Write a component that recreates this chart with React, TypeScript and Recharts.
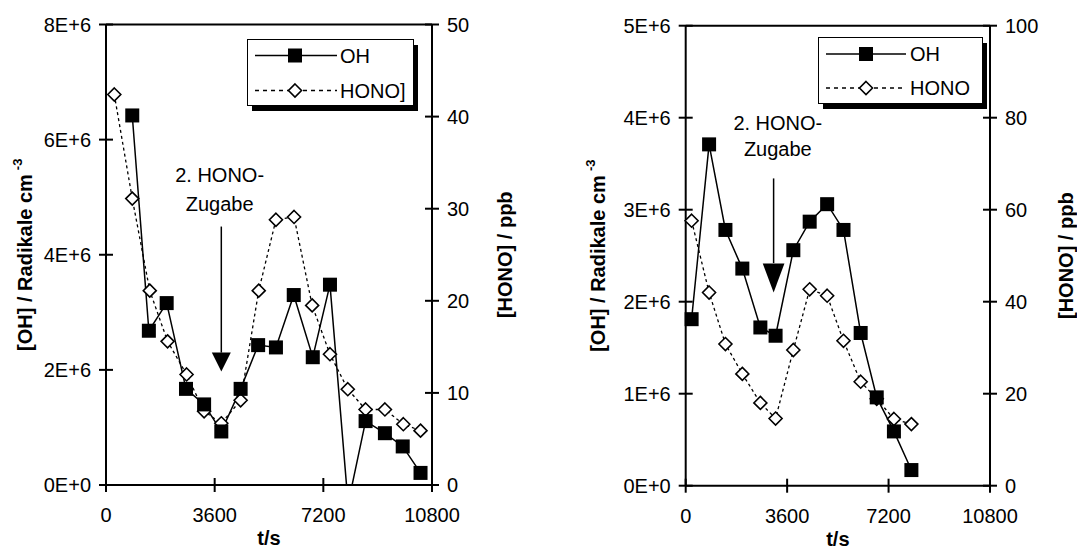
import React from 'react';
import {
  ComposedChart,
  Line,
  XAxis,
  YAxis,
  ReferenceLine,
  ReferenceDot,
  Legend,
} from 'recharts';

const FONT = "'Liberation Sans', Arial, Helvetica, sans-serif";

// ---- Experiment 1 (left panel) ----
const leftOhTimes = [870, 1420, 2010, 2650, 3250, 3820, 4460, 5040, 5630, 6220, 6850, 7420, 8020, 8600, 9240, 9830, 10420];
const leftOhValues = [6.42e6, 2.68e6, 3.16e6, 1.67e6, 1.4e6, 0.93e6, 1.67e6, 2.43e6, 2.39e6, 3.3e6, 2.22e6, 3.48e6, -0.33e6, 1.11e6, 0.9e6, 0.67e6, 0.21e6];
const leftHonoTimes = [275, 870, 1450, 2040, 2670, 3250, 3820, 4460, 5060, 5630, 6230, 6830, 7420, 8010, 8600, 9240, 9850, 10420];
const leftHonoValues = [42.4, 31.1, 21.1, 15.6, 12.0, 8.0, 6.7, 9.2, 21.1, 28.8, 29.1, 19.5, 14.2, 10.4, 8.2, 8.2, 6.6, 5.9];

// ---- Experiment 2 (right panel) ----
const rightTimes = [210, 830, 1410, 2010, 2650, 3190, 3820, 4400, 5020, 5600, 6210, 6780, 7390, 8010];
const rightOhValues = [1.81e6, 3.71e6, 2.78e6, 2.36e6, 1.72e6, 1.63e6, 2.56e6, 2.87e6, 3.06e6, 2.78e6, 1.66e6, 0.96e6, 0.59e6, 0.17e6];
const rightHonoValues = [57.6, 42.0, 30.8, 24.3, 18.0, 14.6, 29.5, 42.7, 41.3, 31.5, 22.6, 18.9, 14.5, 13.4];

// ---- Axis ticks ----
const timeTicks = [0, 3600, 7200, 10800];
const leftOhTicks = [0, 2e6, 4e6, 6e6, 8e6];
const leftHonoTicks = [0, 10, 20, 30, 40, 50];
const rightOhTicks = [0, 1e6, 2e6, 3e6, 4e6, 5e6];
const rightHonoTicks = [0, 20, 40, 60, 80, 100];

const toPoints = (ts: number[], vs: number[]) => ts.map((t, i) => ({ t, v: vs[i] }));

const sci = (v: number) => (v === 0 ? '0E+0' : `${Math.round(v / 1e6)}E+6`);

const TICK_HALF = 7;

const XTick = (props: any) => {
  const { x, y, payload } = props;
  return (
    <g>
      <line x1={x} x2={x} y1={y - TICK_HALF} y2={y + TICK_HALF} stroke="#000" strokeWidth={2} />
      <text x={x} y={y + 30} textAnchor="middle" dominantBaseline="central" fontSize={20} fontFamily={FONT} fill="#000">
        {payload.value}
      </text>
    </g>
  );
};

const LeftTick = (props: any) => {
  const { x, y, payload } = props;
  return (
    <g>
      <line x1={x - TICK_HALF} x2={x + TICK_HALF} y1={y} y2={y} stroke="#000" strokeWidth={2} />
      <text x={x - 15} y={y} textAnchor="end" dominantBaseline="central" fontSize={20} fontFamily={FONT} fill="#000">
        {sci(payload.value)}
      </text>
    </g>
  );
};

const RightTick = (props: any) => {
  const { x, y, payload } = props;
  return (
    <g>
      <line x1={x - TICK_HALF} x2={x + TICK_HALF} y1={y} y2={y} stroke="#000" strokeWidth={2} />
      <text x={x + 15} y={y} textAnchor="start" dominantBaseline="central" fontSize={20} fontFamily={FONT} fill="#000">
        {payload.value}
      </text>
    </g>
  );
};

const SquareDot = (props: any) => {
  const { cx, cy, index } = props;
  if (cx == null || cy == null) return <g key={`s${index}`} />;
  return <rect key={`s${index}`} x={cx - 7} y={cy - 7} width={14} height={14} fill="#000" />;
};

const DiamondDot = (props: any) => {
  const { cx, cy, index } = props;
  if (cx == null || cy == null) return <g key={`d${index}`} />;
  const r = 6.5;
  return (
    <path
      key={`d${index}`}
      d={`M${cx},${cy - r} L${cx + r},${cy} L${cx},${cy + r} L${cx - r},${cy} Z`}
      fill="#fff"
      stroke="#000"
      strokeWidth={1.6}
    />
  );
};

type PanelProps = {
  width: number;
  left: number;
  marginTop: number;
  leftAxisWidth: number;
  rightAxisWidth: number;
  xAxisHeight: number;
  oh: { t: number; v: number }[];
  hono: { t: number; v: number }[];
  ohTicks: number[];
  honoTicks: number[];
  ohMax: number;
  honoMax: number;
  honoName: string;
  leftTitleX: number;
  rightTitleX: number;
  legendBox: { left: number; top: number; width: number; height: number; row1: number; row2: number; lineFrom: number; lineTo: number; marker: number; text: number };
  arrow: { t: number; top: number; base: number; tip: number; headW: number; headH: number };
  note: { t: number; line1: number; line2: number };
};

const LegendBox = ({ box, honoName }: { box: PanelProps['legendBox']; honoName: string }) => {
  const { width: w, height: h, row1, row2, lineFrom, lineTo, marker, text } = box;
  const r = 6.5;
  return (
    <svg width={w + 8} height={h + 10} style={{ display: 'block', overflow: 'visible' }}>
      <rect x={5} y={6} width={w} height={h} fill="#000" />
      <rect x={0.5} y={0.5} width={w} height={h} fill="#fff" stroke="#000" strokeWidth={1} />
      <line x1={lineFrom} x2={lineTo} y1={row1} y2={row1} stroke="#000" strokeWidth={1.5} />
      <rect x={marker - 7} y={row1 - 7} width={14} height={14} fill="#000" />
      <text x={text} y={row1} dominantBaseline="central" fontSize={20} fontFamily={FONT} fill="#000">
        OH
      </text>
      <line x1={lineFrom} x2={lineTo} y1={row2} y2={row2} stroke="#000" strokeWidth={1.6} strokeDasharray="4 4" />
      <path
        d={`M${marker},${row2 - r} L${marker + r},${row2} L${marker},${row2 + r} L${marker - r},${row2} Z`}
        fill="#fff"
        stroke="#000"
        strokeWidth={1.6}
      />
      <text x={text} y={row2} dominantBaseline="central" fontSize={20} fontFamily={FONT} fill="#000">
        {honoName}
      </text>
    </svg>
  );
};

const Panel = (p: PanelProps) => {
  const height = 549;
  const plotRight = p.width - p.rightAxisWidth;
  return (
    <div style={{ position: 'absolute', left: p.left, top: 0 }}>
      <ComposedChart
        width={p.width}
        height={height}
        margin={{ top: p.marginTop, right: 0, bottom: 0, left: 0 }}
        style={{ fontFamily: FONT }}
      >
        <XAxis
          dataKey="t"
          type="number"
          domain={[0, 10800]}
          ticks={timeTicks}
          allowDuplicatedCategory={false}
          height={p.xAxisHeight}
          tickSize={0}
          tickMargin={0}
          tickLine={false}
          axisLine={{ stroke: '#000', strokeWidth: 2 }}
          tick={<XTick />}
          interval={0}
          label={{
            content: (lp: any) => {
              const vb = lp.viewBox;
              return (
                <text
                  x={vb.x + vb.width / 2}
                  y={vb.y + 53}
                  textAnchor="middle"
                  dominantBaseline="central"
                  fontSize={20}
                  fontWeight="bold"
                  fontFamily={FONT}
                  fill="#000"
                >
                  t/s
                </text>
              );
            },
          }}
        />
        <YAxis
          yAxisId="oh"
          orientation="left"
          type="number"
          domain={[0, p.ohMax]}
          allowDataOverflow
          ticks={p.ohTicks}
          width={p.leftAxisWidth}
          tickSize={0}
          tickMargin={0}
          tickLine={false}
          axisLine={{ stroke: '#000', strokeWidth: 2 }}
          tick={<LeftTick />}
          interval={0}
          label={{
            content: (lp: any) => {
              const vb = lp.viewBox;
              const cx = p.leftTitleX;
              const cy = vb.y + vb.height / 2;
              return (
                <text
                  x={cx}
                  y={cy}
                  transform={`rotate(-90 ${cx} ${cy})`}
                  textAnchor="middle"
                  dominantBaseline="central"
                  fontSize={20}
                  fontWeight="bold"
                  fontFamily={FONT}
                  fill="#000"
                >
                  [OH] / Radikale cm
                  <tspan dx={4} dy={-8} fontSize={13}>
                    -3
                  </tspan>
                </text>
              );
            },
          }}
        />
        <YAxis
          yAxisId="hono"
          orientation="right"
          type="number"
          domain={[0, p.honoMax]}
          allowDataOverflow
          ticks={p.honoTicks}
          width={p.rightAxisWidth}
          tickSize={0}
          tickMargin={0}
          tickLine={false}
          axisLine={{ stroke: '#000', strokeWidth: 2 }}
          tick={<RightTick />}
          interval={0}
          label={{
            content: (lp: any) => {
              const vb = lp.viewBox;
              const cx = p.rightTitleX;
              const cy = vb.y + vb.height / 2;
              return (
                <text
                  x={cx}
                  y={cy}
                  transform={`rotate(-90 ${cx} ${cy})`}
                  textAnchor="middle"
                  dominantBaseline="central"
                  fontSize={20}
                  fontWeight="bold"
                  fontFamily={FONT}
                  fill="#000"
                >
                  [HONO] / ppb
                </text>
              );
            },
          }}
        />

        {/* frame top edge */}
        <ReferenceLine yAxisId="oh" y={p.ohMax} stroke="#000" strokeWidth={2} ifOverflow="visible" />

        {/* annotation: second HONO addition */}
        <ReferenceLine
          yAxisId="oh"
          segment={[
            { x: p.arrow.t, y: p.arrow.top },
            { x: p.arrow.t, y: p.arrow.base },
          ]}
          stroke="#000"
          strokeWidth={1.5}
          ifOverflow="visible"
        />
        <ReferenceDot
          yAxisId="oh"
          x={p.arrow.t}
          y={p.arrow.tip}
          ifOverflow="visible"
          shape={(sp: any) => (
            <path
              d={`M${sp.cx - p.arrow.headW / 2},${sp.cy - p.arrow.headH} L${sp.cx + p.arrow.headW / 2},${sp.cy - p.arrow.headH} L${sp.cx},${sp.cy} Z`}
              fill="#000"
            />
          )}
        />
        <ReferenceDot
          yAxisId="oh"
          x={p.note.t}
          y={p.note.line1}
          ifOverflow="visible"
          shape={(sp: any) => (
            <text x={sp.cx} y={sp.cy} textAnchor="middle" dominantBaseline="central" fontSize={20} fontFamily={FONT} fill="#000">
              2. HONO-
            </text>
          )}
        />
        <ReferenceDot
          yAxisId="oh"
          x={p.note.t}
          y={p.note.line2}
          ifOverflow="visible"
          shape={(sp: any) => (
            <text x={sp.cx} y={sp.cy} textAnchor="middle" dominantBaseline="central" fontSize={20} fontFamily={FONT} fill="#000">
              Zugabe
            </text>
          )}
        />

        <Line
          yAxisId="hono"
          data={p.hono}
          dataKey="v"
          type="linear"
          stroke="#000"
          strokeWidth={1.3}
          strokeDasharray="3 3"
          dot={(dp: any) => <DiamondDot {...dp} />}
          activeDot={false}
          isAnimationActive={false}
        />
        <Line
          yAxisId="oh"
          data={p.oh}
          dataKey="v"
          type="linear"
          stroke="#000"
          strokeWidth={1.5}
          dot={(dp: any) => <SquareDot {...dp} />}
          activeDot={false}
          isAnimationActive={false}
        />

        <Legend
          layout="horizontal"
          verticalAlign="middle"
          align="center"
          wrapperStyle={{
            left: p.legendBox.left,
            top: p.legendBox.top,
            width: p.legendBox.width + 8,
            height: p.legendBox.height + 10,
          }}
          content={() => <LegendBox box={p.legendBox} honoName={p.honoName} />}
        />
      </ComposedChart>
    </div>
  );
};

export default function App() {
  return (
    <div style={{ position: 'absolute', left: 0, top: 0, width: 1077, height: 549, background: '#fff', overflow: 'hidden' }}>
      <Panel
        width={540}
        left={0}
        marginTop={24.5}
        leftAxisWidth={106}
        rightAxisWidth={108}
        xAxisHeight={64}
        oh={toPoints(leftOhTimes, leftOhValues)}
        hono={toPoints(leftHonoTimes, leftHonoValues)}
        ohTicks={leftOhTicks}
        honoTicks={leftHonoTicks}
        ohMax={8e6}
        honoMax={50}
        honoName="HONO]"
        leftTitleX={25}
        rightTitleX={505}
        legendBox={{ left: 247, top: 39, width: 166, height: 66, row1: 16.5, row2: 51.5, lineFrom: 8, lineTo: 90, marker: 48, text: 93 }}
        arrow={{ t: 3820, top: 4.49e6, base: 2.3e6, tip: 1.97e6, headW: 19, headH: 19 }}
        note={{ t: 3765, line1: 5.38e6, line2: 4.89e6 }}
      />
      <Panel
        width={537}
        left={540}
        marginTop={25.7}
        leftAxisWidth={145.7}
        rightAxisWidth={87}
        xAxisHeight={63.3}
        oh={toPoints(rightTimes, rightOhValues)}
        hono={toPoints(rightTimes, rightHonoValues)}
        ohTicks={rightOhTicks}
        honoTicks={rightHonoTicks}
        ohMax={5e6}
        honoMax={100}
        honoName="HONO"
        leftTitleX={58}
        rightTitleX={526}
        legendBox={{ left: 278, top: 37, width: 164, height: 66, row1: 17, row2: 51, lineFrom: 8, lineTo: 88, marker: 48, text: 92 }}
        arrow={{ t: 3120, top: 3.34e6, base: 2.42e6, tip: 2.1e6, headW: 21.7, headH: 29 }}
        note={{ t: 3270, line1: 3.94e6, line2: 3.66e6 }}
      />
    </div>
  );
}
